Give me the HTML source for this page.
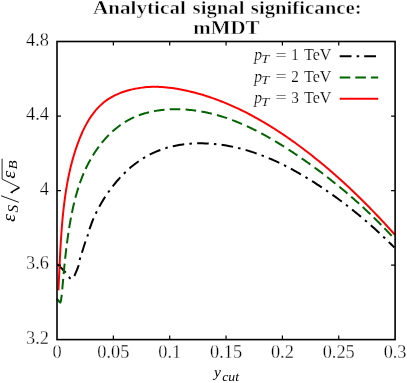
<!DOCTYPE html>
<html><head><meta charset="utf-8"><title>plot</title>
<style>
html,body{margin:0;padding:0;background:#fff;}
svg{display:block;font-family:"Liberation Serif",serif;will-change:transform;}
</style></head><body>
<svg width="407" height="383" viewBox="0 0 407 383">
<rect width="407" height="383" fill="#fff"/>
<g font-size="19" font-weight="bold" fill="#000" stroke="#fff" stroke-width="0.45">
<text x="92.9" y="13.7" textLength="93" lengthAdjust="spacingAndGlyphs">Analytical</text>
<text x="192.6" y="13.7" textLength="51.8" lengthAdjust="spacingAndGlyphs">signal</text>
<text x="250.8" y="13.7" textLength="110.8" lengthAdjust="spacingAndGlyphs">significance:</text>
<text x="193.2" y="34.4" textLength="66.3" lengthAdjust="spacingAndGlyphs">mMDT</text>
</g>
<g fill="none" stroke-linecap="butt" stroke-linejoin="round">
<path d="M57.50,264.20C58.17,264.88 60.13,266.90 61.50,268.30C62.87,269.70 64.65,271.38 65.70,272.60C66.75,273.82 67.13,274.72 67.80,275.60C68.47,276.48 69.10,277.35 69.70,277.90C70.30,278.45 70.85,278.88 71.40,278.90C71.95,278.92 72.48,278.52 73.00,278.00C73.52,277.48 73.93,276.88 74.50,275.75C75.07,274.62 75.75,272.82 76.40,271.20C77.05,269.57 77.83,267.98 78.40,266.00C78.97,264.02 79.23,261.45 79.80,259.30C80.37,257.15 80.88,255.98 81.80,253.10C82.72,250.22 84.33,244.92 85.30,242.00C86.27,239.08 87.12,237.04 87.61,235.58C88.10,234.12 88.03,234.02 88.26,233.25C88.48,232.47 88.71,231.70 88.95,230.93C89.19,230.16 89.44,229.39 89.69,228.62C89.95,227.85 90.21,227.08 90.48,226.32C90.75,225.55 91.03,224.79 91.32,224.03C91.60,223.27 91.89,222.51 92.20,221.75C92.50,220.99 92.81,220.23 93.12,219.48C93.44,218.73 93.76,217.97 94.09,217.22C94.42,216.47 94.76,215.73 95.10,214.98C95.45,214.23 95.80,213.49 96.16,212.75C96.52,212.01 96.89,211.27 97.26,210.53C97.64,209.79 98.02,209.06 98.41,208.33C98.79,207.60 99.19,206.87 99.59,206.14C99.99,205.41 100.40,204.69 100.82,203.96C101.24,203.24 101.66,202.52 102.09,201.80C102.52,201.09 102.95,200.37 103.40,199.66C103.84,198.95 104.29,198.24 104.74,197.53C105.20,196.83 105.66,196.12 106.13,195.42C106.60,194.72 107.08,194.03 107.56,193.33C108.04,192.64 108.53,191.95 109.03,191.26C109.52,190.57 110.02,189.88 110.53,189.20C111.04,188.52 111.55,187.84 112.07,187.17C112.59,186.49 113.12,185.82 113.65,185.16C114.18,184.49 114.72,183.83 115.26,183.17C115.81,182.52 116.36,181.86 116.91,181.22C117.47,180.57 118.03,179.93 118.60,179.29C119.17,178.66 119.74,178.02 120.32,177.40C120.90,176.77 121.49,176.15 122.08,175.54C122.67,174.93 123.26,174.32 123.87,173.72C124.47,173.12 125.07,172.53 125.69,171.94C126.30,171.35 126.92,170.77 127.54,170.20C128.17,169.63 128.80,169.06 129.43,168.50C130.07,167.94 130.71,167.39 131.35,166.85C132.00,166.31 132.65,165.78 133.30,165.25C133.96,164.73 134.62,164.21 135.28,163.70C135.95,163.19 136.62,162.69 137.30,162.20C137.97,161.71 138.65,161.23 139.34,160.76C140.02,160.29 140.71,159.83 141.41,159.37C142.10,158.92 142.80,158.48 143.51,158.05C144.21,157.62 144.92,157.19 145.64,156.78C146.35,156.37 147.07,155.97 147.79,155.58C148.51,155.19 149.24,154.81 149.97,154.44C150.71,154.07 151.44,153.71 152.18,153.36C152.92,153.01 153.66,152.67 154.41,152.34C155.16,152.01 155.91,151.69 156.67,151.38C157.42,151.07 158.18,150.77 158.94,150.48C159.71,150.18 160.47,149.90 161.24,149.63C162.01,149.36 162.79,149.09 163.56,148.84C164.34,148.59 165.12,148.34 165.90,148.11C166.68,147.87 167.47,147.65 168.25,147.43C169.04,147.21 169.83,147.01 170.63,146.81C171.42,146.61 172.22,146.42 173.02,146.24C173.81,146.06 174.62,145.88 175.42,145.72C176.22,145.56 177.03,145.40 177.84,145.26C178.64,145.11 179.45,144.97 180.27,144.84C181.08,144.71 181.89,144.59 182.71,144.48C183.53,144.37 184.34,144.26 185.16,144.17C185.98,144.07 186.80,143.99 187.63,143.91C188.45,143.83 189.27,143.75 190.10,143.69C190.92,143.63 191.75,143.57 192.58,143.52C193.40,143.48 194.23,143.44 195.06,143.40C195.89,143.37 196.72,143.35 197.55,143.33C198.39,143.31 199.22,143.30 200.05,143.30C200.88,143.30 201.72,143.30 202.55,143.32C203.38,143.33 204.22,143.35 205.05,143.38C205.89,143.40 206.72,143.44 207.56,143.48C208.39,143.52 209.23,143.57 210.06,143.62C210.90,143.68 211.73,143.74 212.57,143.81C213.40,143.88 214.24,143.96 215.07,144.04C215.90,144.12 216.74,144.21 217.57,144.31C218.40,144.40 219.23,144.50 220.07,144.61C220.90,144.72 221.73,144.84 222.56,144.96C223.39,145.08 224.22,145.21 225.04,145.34C225.87,145.48 226.70,145.62 227.52,145.76C228.35,145.91 229.17,146.06 229.99,146.22C230.82,146.38 231.64,146.54 232.46,146.71C233.27,146.88 234.09,147.06 234.91,147.24C235.72,147.42 236.54,147.61 237.35,147.80C238.16,147.99 238.97,148.19 239.78,148.39C240.59,148.60 241.40,148.80 242.21,149.02C243.01,149.23 243.82,149.45 244.62,149.68C245.42,149.90 246.22,150.13 247.02,150.37C247.82,150.60 248.62,150.85 249.41,151.09C250.21,151.34 251.00,151.59 251.80,151.84C252.59,152.10 253.38,152.36 254.17,152.63C254.96,152.89 255.75,153.16 256.53,153.44C257.32,153.71 258.10,153.99 258.88,154.28C259.67,154.56 260.45,154.85 261.23,155.14C262.01,155.44 262.78,155.73 263.56,156.04C264.34,156.34 265.11,156.65 265.88,156.96C266.66,157.27 267.43,157.59 268.20,157.91C268.97,158.23 269.73,158.55 270.50,158.88C271.27,159.21 272.03,159.54 272.80,159.88C273.56,160.21 274.32,160.55 275.08,160.90C275.84,161.24 276.60,161.59 277.36,161.94C278.11,162.29 278.87,162.65 279.62,163.01C280.37,163.37 281.13,163.73 281.88,164.10C282.63,164.47 283.38,164.84 284.12,165.21C284.87,165.59 285.62,165.96 286.36,166.34C287.10,166.72 287.85,167.11 288.59,167.50C289.33,167.88 290.07,168.28 290.81,168.67C291.54,169.06 292.28,169.46 293.01,169.86C293.75,170.26 294.48,170.67 295.21,171.07C295.94,171.48 296.67,171.89 297.40,172.30C298.13,172.71 298.86,173.13 299.58,173.55C300.31,173.96 301.03,174.38 301.75,174.81C302.48,175.23 303.20,175.66 303.92,176.09C304.64,176.52 305.35,176.95 306.07,177.38C306.79,177.81 307.50,178.25 308.21,178.69C308.93,179.13 309.64,179.57 310.35,180.01C311.06,180.45 311.77,180.90 312.47,181.35C313.18,181.79 313.88,182.24 314.59,182.70C315.29,183.15 315.99,183.60 316.70,184.06C317.40,184.51 318.10,184.97 318.79,185.43C319.49,185.89 320.19,186.35 320.88,186.81C321.58,187.28 322.27,187.74 322.96,188.21C323.65,188.68 324.35,189.14 325.03,189.61C325.72,190.08 326.41,190.56 327.10,191.03C327.78,191.50 328.47,191.98 329.15,192.45C329.83,192.93 330.51,193.41 331.19,193.89C331.87,194.37 332.55,194.85 333.23,195.34C333.91,195.82 334.58,196.30 335.26,196.79C335.93,197.28 336.60,197.77 337.27,198.26C337.95,198.75 338.62,199.24 339.28,199.73C339.95,200.23 340.62,200.72 341.28,201.22C341.95,201.72 342.61,202.22 343.28,202.72C343.94,203.22 344.60,203.72 345.26,204.22C345.92,204.73 346.58,205.23 347.23,205.74C347.89,206.25 348.55,206.76 349.20,207.27C349.85,207.78 350.51,208.29 351.16,208.81C351.81,209.32 352.46,209.84 353.11,210.36C353.76,210.88 354.40,211.39 355.05,211.92C355.69,212.44 356.34,212.96 356.98,213.49C357.62,214.01 358.26,214.54 358.90,215.06C359.54,215.59 360.18,216.12 360.82,216.65C361.46,217.19 362.09,217.72 362.73,218.26C363.36,218.79 363.99,219.33 364.62,219.87C365.25,220.40 365.89,220.94 366.51,221.49C367.14,222.03 367.77,222.57 368.40,223.12C369.02,223.66 369.65,224.21 370.27,224.76C370.89,225.31 371.51,225.86 372.13,226.41C372.75,226.96 373.37,227.52 373.99,228.07C374.61,228.63 375.23,229.19 375.84,229.75C376.46,230.31 377.07,230.87 377.68,231.43C378.29,231.99 378.90,232.56 379.51,233.13C380.12,233.69 380.73,234.26 381.34,234.83C381.95,235.40 382.55,235.97 383.16,236.54C383.76,237.12 384.36,237.69 384.96,238.27C385.57,238.85 386.17,239.43 386.76,240.01C387.36,240.59 387.96,241.17 388.56,241.75C389.15,242.34 389.75,242.92 390.34,243.51C390.94,244.10 391.53,244.69 392.12,245.28C392.71,245.87 393.51,246.68 393.89,247.05C394.26,247.43 394.28,247.45 394.36,247.53" stroke="#000" stroke-width="2.0" stroke-dasharray="11.6 5.2 2.5 5.25" stroke-dashoffset="-0.2"/>
<path d="M56.90,298.60L57.36,299.26L57.84,299.89L58.35,300.51L58.86,301.13L59.36,301.75L59.86,302.38L60.29,302.56L60.58,301.82L60.87,301.07L61.01,300.28L61.13,299.49L61.24,298.70L61.36,297.91L61.47,297.12L61.58,296.32L61.68,295.53L61.79,294.74M62.26,289.42L62.33,288.63L62.40,287.83L62.47,287.03L62.54,286.24L62.61,285.44L62.68,284.64L62.75,283.84L62.82,283.05L62.89,282.25L62.96,281.45L63.03,280.66L63.10,279.86L63.17,279.06L63.19,278.86M63.62,274.12L63.70,273.32L63.77,272.52L63.84,271.73L63.92,270.93L63.99,270.13L64.07,269.34L64.15,268.54L64.23,267.75L64.30,266.95L64.38,266.15L64.46,265.36L64.54,264.56L64.62,263.77L64.64,263.57M65.14,258.76L65.23,257.96L65.31,257.17L65.40,256.37L65.49,255.58L65.57,254.78L65.66,253.99L65.75,253.19L65.84,252.40L65.94,251.60L66.03,250.81L66.12,250.02L66.22,249.22L66.31,248.43L66.34,248.23M66.94,243.40L67.05,242.60L67.15,241.81L67.26,241.02L67.36,240.22L67.47,239.43L67.58,238.64L67.69,237.85L67.80,237.05L67.92,236.26L68.03,235.47L68.15,234.68L68.26,233.89L68.38,233.10L68.41,232.90M69.16,228.08L69.29,227.29L69.42,226.50L69.55,225.71L69.68,224.92L69.82,224.13L69.95,223.34L70.09,222.55L70.23,221.77L70.37,220.98L70.51,220.19L70.65,219.40L70.80,218.62L70.95,217.83L70.98,217.63M71.92,212.86L72.08,212.08L72.24,211.30L72.40,210.51L72.57,209.73L72.74,208.95L72.91,208.17L73.08,207.39L73.26,206.61L73.43,205.83L73.61,205.05L73.80,204.27L73.98,203.49L74.17,202.71L74.21,202.52M75.40,197.85L75.60,197.07L75.81,196.30L76.02,195.53L76.24,194.76L76.45,193.99L76.67,193.22L76.90,192.45L77.12,191.68L77.35,190.92L77.58,190.15L77.82,189.39L78.06,188.62L78.30,187.86L78.36,187.67M79.87,183.16L80.14,182.41L80.41,181.65L80.68,180.90L80.96,180.15L81.24,179.40L81.53,178.65L81.81,177.91L82.11,177.16L82.40,176.42L82.70,175.68L83.01,174.94L83.31,174.20L83.62,173.46L83.70,173.28M85.63,168.96L85.97,168.23L86.32,167.51L86.66,166.79L87.02,166.07L87.37,165.36L87.73,164.64L88.10,163.93L88.47,163.22L88.84,162.51L89.22,161.81L89.60,161.11L89.99,160.41L90.38,159.71L90.48,159.53M92.89,155.43L93.31,154.75L93.74,154.08L94.17,153.40L94.60,152.73L95.04,152.06L95.48,151.39L95.93,150.73L96.38,150.07L96.84,149.41L97.30,148.76L97.76,148.11L98.23,147.46L98.71,146.81L98.82,146.65M101.78,142.84L102.28,142.22L102.79,141.60L103.31,140.99L103.83,140.38L104.35,139.78L104.88,139.18L105.41,138.58L105.95,137.99L106.49,137.40L107.04,136.82L107.59,136.24L108.15,135.66L108.71,135.09L108.85,134.95M112.39,131.56L112.98,131.03L113.58,130.50L114.19,129.97L114.80,129.45L115.41,128.94L116.03,128.43L116.65,127.93L117.28,127.43L117.91,126.94L118.54,126.45L119.18,125.97L119.83,125.50L120.48,125.03L120.64,124.92M124.79,122.17L125.47,121.75L126.16,121.34L126.85,120.93L127.54,120.54L128.24,120.15L128.94,119.77L129.65,119.39L130.36,119.03L131.08,118.67L131.80,118.32L132.52,117.97L133.24,117.63L133.97,117.31L134.16,117.22M138.84,115.33L139.59,115.05L140.35,114.78L141.11,114.53L141.86,114.27L142.63,114.03L143.39,113.79L144.15,113.55L144.92,113.33L145.69,113.11L146.46,112.90L147.24,112.69L148.01,112.49L148.79,112.30L148.98,112.25M154.01,111.18L154.79,111.03L155.58,110.89L156.37,110.76L157.16,110.63L157.95,110.51L158.74,110.40L159.53,110.29L160.33,110.18L161.12,110.08L161.92,109.99L162.71,109.90L163.51,109.82L164.30,109.74L164.50,109.73M169.71,109.36L170.51,109.33L171.31,109.30L172.11,109.27L172.91,109.25L173.71,109.23L174.51,109.22L175.31,109.22L176.11,109.21L176.91,109.22L177.71,109.23L178.51,109.24L179.31,109.25L180.11,109.28L180.31,109.28M185.60,109.55L186.40,109.61L187.20,109.67L188.00,109.74L188.79,109.81L189.59,109.88L190.39,109.96L191.18,110.04L191.98,110.13L192.77,110.23L193.56,110.32L194.36,110.42L195.15,110.53L195.94,110.64L196.14,110.67M201.42,111.51L202.21,111.65L203.00,111.80L203.78,111.95L204.57,112.10L205.35,112.26L206.13,112.42L206.92,112.59L207.70,112.76L208.48,112.93L209.26,113.11L210.04,113.29L210.82,113.47L211.59,113.66L211.79,113.71M216.97,115.07L217.74,115.29L218.51,115.51L219.28,115.74L220.05,115.97L220.81,116.20L221.58,116.43L222.34,116.67L223.11,116.91L223.87,117.15L224.63,117.40L225.39,117.65L226.15,117.91L226.90,118.16L227.09,118.23M232.15,120.04L232.90,120.32L233.65,120.61L234.39,120.90L235.14,121.19L235.88,121.48L236.63,121.78L237.37,122.07L238.11,122.38L238.85,122.68L239.59,122.99L240.33,123.30L241.06,123.61L241.80,123.92L241.98,124.00M246.89,126.19L247.62,126.52L248.35,126.86L249.07,127.20L249.79,127.54L250.52,127.88L251.24,128.23L251.96,128.58L252.68,128.93L253.39,129.28L254.11,129.64L254.83,129.99L255.54,130.35L256.26,130.71L256.43,130.81M261.19,133.28L261.90,133.66L262.60,134.04L263.30,134.42L264.01,134.80L264.71,135.19L265.41,135.58L266.11,135.96L266.81,136.35L267.50,136.75L268.20,137.14L268.90,137.53L269.59,137.93L270.29,138.33L270.46,138.43M275.06,141.13L275.75,141.54L276.44,141.96L277.12,142.37L277.80,142.78L278.49,143.20L279.17,143.62L279.85,144.04L280.53,144.46L281.21,144.88L281.89,145.30L282.57,145.73L283.25,146.15L283.92,146.58L284.09,146.69M288.55,149.55L289.22,149.99L289.89,150.42L290.56,150.86L291.23,151.30L291.90,151.74L292.57,152.18L293.23,152.63L293.90,153.07L294.56,153.51L295.23,153.96L295.89,154.41L296.56,154.85L297.22,155.30L297.38,155.41M301.72,158.38L302.38,158.83L303.03,159.29L303.69,159.75L304.35,160.20L305.00,160.66L305.66,161.12L306.31,161.58L306.96,162.05L307.62,162.51L308.27,162.97L308.92,163.43L309.57,163.90L310.22,164.37L310.39,164.48M314.58,167.53L315.23,168.00L315.87,168.47L316.52,168.95L317.16,169.42L317.80,169.90L318.45,170.38L319.09,170.85L319.73,171.33L320.37,171.81L321.01,172.29L321.65,172.78L322.28,173.26L322.92,173.74L323.08,173.86M327.13,176.98L327.76,177.47L328.40,177.96L329.03,178.45L329.66,178.94L330.28,179.44L330.91,179.93L331.54,180.43L332.17,180.93L332.79,181.42L333.42,181.92L334.04,182.42L334.67,182.92L335.29,183.42L335.45,183.55M339.34,186.72L339.96,187.22L340.57,187.73L341.19,188.24L341.81,188.75L342.42,189.27L343.03,189.78L343.65,190.29L344.26,190.81L344.87,191.32L345.48,191.84L346.09,192.36L346.70,192.87L347.31,193.39L347.46,193.52M351.18,196.73L351.79,197.26L352.39,197.78L352.99,198.31L353.59,198.84L354.19,199.37L354.79,199.90L355.39,200.43L355.99,200.96L356.58,201.49L357.18,202.03L357.78,202.56L358.37,203.10L358.96,203.63L359.11,203.77M362.65,207.00L363.24,207.54L363.83,208.09L364.41,208.63L365.00,209.18L365.58,209.72L366.17,210.27L366.75,210.82L367.33,211.37L367.91,211.91L368.50,212.47L369.08,213.02L369.65,213.57L370.23,214.12L370.38,214.26M373.73,217.50L374.30,218.06L374.87,218.62L375.44,219.18L376.01,219.74L376.58,220.30L377.15,220.87L377.72,221.43L378.28,222.00L378.85,222.56L379.42,223.13L379.98,223.70L380.54,224.26L381.10,224.83L381.25,224.98M384.40,228.21L384.96,228.78L385.52,229.36L386.07,229.93L386.63,230.51L387.18,231.09L387.73,231.67L388.28,232.25L388.83,232.83L389.38,233.41L389.93,233.99L390.48,234.57L391.03,235.16L391.57,235.74L391.71,235.89M394.67,239.09L394.93,239.37" stroke="#006400" stroke-width="2.0"/>
<path d="M58.38,290.35C58.40,289.94 58.47,288.70 58.51,287.88C58.55,287.05 58.59,286.23 58.63,285.40C58.67,284.58 58.71,283.75 58.75,282.92C58.80,282.10 58.84,281.27 58.87,280.44C58.91,279.61 58.95,278.78 58.99,277.96C59.03,277.13 59.07,276.30 59.11,275.47C59.15,274.64 59.19,273.81 59.23,272.98C59.27,272.15 59.30,271.32 59.34,270.49C59.38,269.66 59.42,268.82 59.46,267.99C59.50,267.16 59.54,266.33 59.58,265.50C59.62,264.66 59.66,263.83 59.70,263.00C59.74,262.16 59.78,261.33 59.82,260.50C59.86,259.66 59.90,258.83 59.94,258.00C59.98,257.16 60.02,256.33 60.06,255.49C60.11,254.66 60.15,253.83 60.19,252.99C60.24,252.16 60.28,251.32 60.33,250.49C60.37,249.65 60.42,248.82 60.46,247.98C60.51,247.15 60.56,246.31 60.61,245.48C60.65,244.64 60.70,243.81 60.75,242.97C60.80,242.14 60.86,241.30 60.91,240.47C60.96,239.63 61.01,238.80 61.07,237.96C61.12,237.13 61.18,236.29 61.23,235.46C61.29,234.62 61.35,233.79 61.41,232.96C61.47,232.12 61.53,231.29 61.59,230.45C61.65,229.62 61.72,228.79 61.78,227.95C61.85,227.12 61.91,226.28 61.98,225.45C62.05,224.62 62.12,223.79 62.19,222.95C62.26,222.12 62.34,221.29 62.41,220.46C62.49,219.62 62.56,218.79 62.64,217.96C62.72,217.13 62.80,216.30 62.88,215.47C62.96,214.64 63.05,213.81 63.13,212.98C63.22,212.15 63.31,211.32 63.40,210.49C63.49,209.66 63.58,208.83 63.67,208.01C63.77,207.18 63.87,206.35 63.96,205.52C64.06,204.70 64.16,203.87 64.27,203.04C64.37,202.22 64.48,201.39 64.59,200.57C64.69,199.74 64.80,198.92 64.92,198.10C65.03,197.27 65.15,196.45 65.27,195.63C65.38,194.81 65.50,193.98 65.63,193.16C65.75,192.34 65.88,191.52 66.01,190.70C66.14,189.88 66.27,189.07 66.40,188.25C66.54,187.43 66.68,186.61 66.82,185.80C66.96,184.98 67.10,184.16 67.25,183.35C67.39,182.53 67.54,181.72 67.70,180.91C67.85,180.09 68.01,179.28 68.17,178.47C68.33,177.66 68.49,176.84 68.66,176.03C68.83,175.22 69.00,174.41 69.17,173.61C69.34,172.80 69.52,171.99 69.71,171.18C69.89,170.37 70.07,169.57 70.26,168.76C70.45,167.95 70.65,167.15 70.84,166.34C71.04,165.54 71.25,164.74 71.45,163.93C71.66,163.13 71.87,162.33 72.08,161.53C72.30,160.72 72.52,159.92 72.74,159.12C72.97,158.32 73.20,157.52 73.43,156.73C73.66,155.93 73.90,155.13 74.14,154.33C74.39,153.54 74.63,152.74 74.89,151.94C75.14,151.15 75.40,150.35 75.66,149.56C75.92,148.77 76.19,147.97 76.46,147.18C76.74,146.39 77.02,145.60 77.30,144.80C77.58,144.01 77.87,143.22 78.17,142.43C78.46,141.64 78.76,140.85 79.07,140.07C79.38,139.28 79.69,138.49 80.01,137.71C80.32,136.92 80.65,136.14 80.98,135.35C81.31,134.57 81.64,133.79 81.99,133.01C82.33,132.24 82.68,131.46 83.04,130.69C83.40,129.92 83.77,129.15 84.14,128.39C84.52,127.63 84.90,126.87 85.29,126.12C85.68,125.36 86.08,124.62 86.49,123.88C86.89,123.13 87.31,122.40 87.74,121.67C88.16,120.94 88.60,120.22 89.04,119.50C89.49,118.79 89.94,118.08 90.41,117.38C90.87,116.68 91.35,115.99 91.84,115.31C92.32,114.63 92.82,113.95 93.33,113.29C93.83,112.63 94.35,111.97 94.88,111.33C95.41,110.69 95.95,110.05 96.50,109.43C97.04,108.81 97.60,108.20 98.17,107.60C98.74,107.01 99.32,106.42 99.91,105.85C100.50,105.27 101.10,104.71 101.71,104.16C102.32,103.62 102.94,103.08 103.58,102.57C104.21,102.05 104.85,101.54 105.50,101.05C106.15,100.56 106.81,100.09 107.48,99.63C108.16,99.17 108.84,98.72 109.53,98.29C110.22,97.87 110.92,97.45 111.63,97.05C112.33,96.65 113.05,96.27 113.78,95.89C114.50,95.52 115.23,95.17 115.97,94.82C116.71,94.48 117.46,94.14 118.21,93.83C118.96,93.51 119.72,93.20 120.49,92.91C121.25,92.61 122.02,92.33 122.80,92.06C123.58,91.79 124.36,91.54 125.14,91.29C125.92,91.04 126.71,90.81 127.51,90.58C128.30,90.36 129.09,90.14 129.89,89.94C130.69,89.73 131.49,89.54 132.30,89.35C133.10,89.17 133.91,89.00 134.71,88.83C135.52,88.67 136.33,88.51 137.15,88.37C137.96,88.23 138.78,88.09 139.59,87.97C140.41,87.84 141.23,87.73 142.05,87.62C142.87,87.52 143.70,87.43 144.52,87.34C145.35,87.26 146.17,87.18 147.00,87.12C147.83,87.05 148.66,87.00 149.49,86.95C150.32,86.91 151.15,86.87 151.98,86.85C152.81,86.82 153.65,86.81 154.48,86.80C155.32,86.80 156.15,86.80 156.99,86.81C157.82,86.83 158.66,86.85 159.49,86.88C160.33,86.92 161.17,86.96 162.00,87.01C162.84,87.06 163.68,87.12 164.51,87.19C165.35,87.26 166.19,87.34 167.02,87.42C167.86,87.51 168.70,87.60 169.53,87.71C170.37,87.81 171.21,87.92 172.04,88.03C172.88,88.15 173.71,88.27 174.54,88.40C175.38,88.53 176.21,88.67 177.04,88.81C177.87,88.95 178.70,89.10 179.53,89.26C180.36,89.41 181.19,89.57 182.02,89.74C182.84,89.90 183.67,90.07 184.49,90.25C185.32,90.42 186.14,90.60 186.96,90.78C187.78,90.97 188.60,91.16 189.41,91.35C190.23,91.54 191.05,91.74 191.86,91.94C192.67,92.14 193.49,92.35 194.30,92.56C195.11,92.77 195.91,92.99 196.72,93.21C197.53,93.43 198.33,93.65 199.14,93.88C199.94,94.11 200.74,94.34 201.54,94.58C202.34,94.81 203.14,95.05 203.94,95.30C204.74,95.54 205.53,95.79 206.33,96.04C207.12,96.30 207.91,96.56 208.70,96.82C209.50,97.08 210.28,97.34 211.07,97.61C211.86,97.88 212.65,98.15 213.43,98.43C214.21,98.71 215.00,98.99 215.78,99.27C216.56,99.56 217.34,99.85 218.12,100.14C218.90,100.43 219.67,100.73 220.45,101.03C221.22,101.33 222.00,101.63 222.77,101.94C223.54,102.25 224.31,102.56 225.08,102.87C225.85,103.19 226.61,103.51 227.38,103.83C228.15,104.15 228.91,104.47 229.67,104.80C230.44,105.13 231.20,105.46 231.96,105.80C232.72,106.14 233.47,106.48 234.23,106.82C234.99,107.16 235.74,107.51 236.49,107.86C237.25,108.21 238.00,108.56 238.75,108.91C239.50,109.27 240.25,109.63 241.00,109.99C241.74,110.35 242.49,110.72 243.23,111.09C243.98,111.46 244.72,111.83 245.46,112.21C246.21,112.58 246.95,112.96 247.68,113.34C248.42,113.72 249.16,114.11 249.89,114.49C250.63,114.88 251.36,115.27 252.10,115.66C252.83,116.06 253.56,116.45 254.29,116.85C255.02,117.25 255.75,117.65 256.47,118.06C257.20,118.46 257.93,118.87 258.65,119.28C259.37,119.69 260.10,120.10 260.82,120.52C261.54,120.93 262.26,121.35 262.98,121.77C263.70,122.19 264.41,122.62 265.13,123.04C265.84,123.47 266.56,123.90 267.27,124.33C267.98,124.76 268.69,125.19 269.40,125.63C270.11,126.07 270.82,126.51 271.53,126.95C272.23,127.39 272.94,127.83 273.64,128.28C274.35,128.72 275.05,129.17 275.75,129.62C276.45,130.07 277.15,130.53 277.85,130.98C278.55,131.44 279.25,131.89 279.94,132.35C280.64,132.81 281.33,133.27 282.03,133.74C282.72,134.20 283.41,134.67 284.10,135.13C284.79,135.60 285.48,136.07 286.17,136.54C286.86,137.02 287.54,137.49 288.23,137.97C288.91,138.44 289.60,138.92 290.28,139.40C290.96,139.88 291.64,140.36 292.32,140.84C293.00,141.33 293.68,141.81 294.36,142.30C295.03,142.79 295.71,143.27 296.38,143.76C297.06,144.25 297.73,144.75 298.40,145.24C299.07,145.73 299.74,146.23 300.41,146.73C301.08,147.22 301.75,147.72 302.42,148.22C303.08,148.72 303.75,149.23 304.41,149.73C305.08,150.23 305.74,150.74 306.40,151.25C307.06,151.75 307.72,152.26 308.38,152.77C309.04,153.28 309.70,153.79 310.36,154.31C311.01,154.82 311.67,155.33 312.32,155.85C312.97,156.37 313.63,156.89 314.28,157.41C314.93,157.92 315.58,158.45 316.23,158.97C316.88,159.49 317.53,160.01 318.17,160.54C318.82,161.07 319.46,161.59 320.11,162.12C320.75,162.65 321.40,163.18 322.04,163.71C322.68,164.24 323.32,164.78 323.96,165.31C324.60,165.84 325.24,166.38 325.87,166.92C326.51,167.46 327.14,167.99 327.78,168.53C328.41,169.07 329.05,169.62 329.68,170.16C330.31,170.70 330.94,171.25 331.57,171.79C332.20,172.34 332.83,172.88 333.46,173.43C334.08,173.98 334.71,174.53 335.33,175.08C335.96,175.63 336.58,176.18 337.21,176.74C337.83,177.29 338.45,177.85 339.07,178.40C339.69,178.96 340.31,179.52 340.93,180.08C341.55,180.64 342.16,181.20 342.78,181.76C343.39,182.32 344.01,182.88 344.62,183.44C345.24,184.01 345.85,184.57 346.46,185.14C347.07,185.71 347.68,186.27 348.29,186.84C348.90,187.41 349.51,187.98 350.11,188.55C350.72,189.12 351.33,189.70 351.93,190.27C352.54,190.84 353.14,191.42 353.74,192.00C354.34,192.57 354.94,193.15 355.55,193.73C356.15,194.30 356.74,194.88 357.34,195.46C357.94,196.05 358.54,196.63 359.13,197.21C359.73,197.79 360.32,198.38 360.92,198.96C361.51,199.55 362.10,200.13 362.70,200.72C363.29,201.31 363.88,201.89 364.47,202.48C365.06,203.07 365.65,203.66 366.23,204.25C366.82,204.84 367.41,205.44 367.99,206.03C368.58,206.62 369.16,207.22 369.75,207.81C370.33,208.41 370.91,209.00 371.49,209.60C372.08,210.20 372.66,210.80 373.24,211.40C373.81,212.00 374.39,212.60 374.97,213.20C375.55,213.80 376.12,214.40 376.70,215.00C377.27,215.61 377.85,216.21 378.42,216.81C379.00,217.42 379.57,218.02 380.14,218.63C380.71,219.24 381.28,219.85 381.85,220.45C382.42,221.06 382.99,221.67 383.56,222.28C384.12,222.89 384.69,223.50 385.25,224.11C385.82,224.72 386.39,225.34 386.95,225.95C387.51,226.56 388.08,227.18 388.64,227.79C389.20,228.41 389.76,229.02 390.32,229.64C390.88,230.26 391.44,230.87 392.00,231.49C392.55,232.11 393.15,232.78 393.67,233.35C394.18,233.92 394.84,234.66 395.07,234.92" stroke="#ff0000" stroke-width="2.0"/>
</g>
<g fill="none" stroke="#000">
<path d="M113.35,41.50 v4.00 M113.35,339.60 v-4.00 M169.70,41.50 v4.00 M169.70,339.60 v-4.00 M226.05,41.50 v4.00 M226.05,339.60 v-4.00 M282.40,41.50 v4.00 M282.40,339.60 v-4.00 M338.75,41.50 v4.00 M338.75,339.60 v-4.00 M57.00,265.08 h4.00 M395.10,265.08 h-4.00 M57.00,190.55 h4.00 M395.10,190.55 h-4.00 M57.00,116.03 h4.00 M395.10,116.03 h-4.00 " stroke-width="1.2" stroke-linecap="butt"/>
<rect x="57.0" y="41.5" width="338.10" height="298.10" stroke-width="1.6"/>
</g>
<g font-size="19.8" fill="#000" stroke="#fff" stroke-width="0.3">
<text x="52.42" y="357.7" textLength="9.16" lengthAdjust="spacingAndGlyphs">0</text><text x="97.32" y="357.7" textLength="32.05" lengthAdjust="spacingAndGlyphs">0.05</text><text x="158.25" y="357.7" textLength="22.89" lengthAdjust="spacingAndGlyphs">0.1</text><text x="210.02" y="357.7" textLength="32.05" lengthAdjust="spacingAndGlyphs">0.15</text><text x="270.95" y="357.7" textLength="22.89" lengthAdjust="spacingAndGlyphs">0.2</text><text x="322.72" y="357.7" textLength="32.05" lengthAdjust="spacingAndGlyphs">0.25</text><text x="383.65" y="357.7" textLength="22.89" lengthAdjust="spacingAndGlyphs">0.3</text>
<text x="26.01" y="343.60" textLength="22.89" lengthAdjust="spacingAndGlyphs">3.2</text><text x="26.01" y="269.08" textLength="22.89" lengthAdjust="spacingAndGlyphs">3.6</text><text x="39.74" y="194.55" textLength="9.16" lengthAdjust="spacingAndGlyphs">4</text><text x="26.01" y="120.03" textLength="22.89" lengthAdjust="spacingAndGlyphs">4.4</text><text x="26.01" y="45.50" textLength="22.89" lengthAdjust="spacingAndGlyphs">4.8</text>
</g>
<g fill="none" stroke-width="2.0">
<path d="M339.7,56.2H378.2" stroke="#000" stroke-dasharray="11.8 5.1 2.6 5.0"/>
<path d="M339.7,77.5H378.2" stroke="#006400" stroke-dasharray="10.6 5.0"/>
<path d="M339.7,98.7H378.2" stroke="#ff0000"/>
</g>
<g font-size="17.2" fill="#000" stroke="#fff" stroke-width="0.18">
<g transform="translate(0,0)">
<text x="254.2" y="60.4" font-style="italic" textLength="7.8" lengthAdjust="spacingAndGlyphs">p</text>
<text x="261.0" y="63" font-size="12.6" font-style="italic" textLength="8.4" lengthAdjust="spacingAndGlyphs">T</text>
<text x="275.6" y="60.9" textLength="11.2" lengthAdjust="spacingAndGlyphs">=</text>
<text x="291.2" y="60.4" textLength="7.6" lengthAdjust="spacingAndGlyphs">1</text>
<text x="304" y="60.4" textLength="27.5" lengthAdjust="spacingAndGlyphs">TeV</text>
</g>
<g transform="translate(0,21.3)">
<text x="254.2" y="60.4" font-style="italic" textLength="7.8" lengthAdjust="spacingAndGlyphs">p</text>
<text x="261.0" y="63" font-size="12.6" font-style="italic" textLength="8.4" lengthAdjust="spacingAndGlyphs">T</text>
<text x="275.6" y="60.9" textLength="11.2" lengthAdjust="spacingAndGlyphs">=</text>
<text x="291.2" y="60.4" textLength="7.6" lengthAdjust="spacingAndGlyphs">2</text>
<text x="304" y="60.4" textLength="27.5" lengthAdjust="spacingAndGlyphs">TeV</text>
</g>
<g transform="translate(0,42.6)">
<text x="254.2" y="60.4" font-style="italic" textLength="7.8" lengthAdjust="spacingAndGlyphs">p</text>
<text x="261.0" y="63" font-size="12.6" font-style="italic" textLength="8.4" lengthAdjust="spacingAndGlyphs">T</text>
<text x="275.6" y="60.9" textLength="11.2" lengthAdjust="spacingAndGlyphs">=</text>
<text x="291.2" y="60.4" textLength="7.6" lengthAdjust="spacingAndGlyphs">3</text>
<text x="304" y="60.4" textLength="27.5" lengthAdjust="spacingAndGlyphs">TeV</text>
</g>
</g>
<g fill="#000" font-style="italic">
<text x="214.0" y="377.3" font-size="15.5">y</text>
<text x="222.2" y="380.5" font-size="12" textLength="16.8" lengthAdjust="spacingAndGlyphs">cut</text>
</g>
<g transform="translate(14.8,221.9) rotate(-90)" fill="#000">
<text x="0" y="0.2" font-size="19.6" font-style="italic" textLength="8.0" lengthAdjust="spacingAndGlyphs">ε</text>
<text x="9.3" y="3.2" font-size="13.6" font-style="italic" textLength="7.5" lengthAdjust="spacingAndGlyphs">S</text>
<path d="M19.6,4.0 L26.15,-13.75" fill="none" stroke="#000" stroke-width="0.9"/>
<text x="43.1" y="0" font-size="19.6" font-style="italic" textLength="8.0" lengthAdjust="spacingAndGlyphs">ε</text>
<text x="52.3" y="2.5" font-size="13.4" font-style="italic" textLength="9.2" lengthAdjust="spacingAndGlyphs">B</text>
<path d="M28.9,-2.2 L29.7,-3.4 L34.4,4.6" fill="none" stroke="#000" stroke-width="1.5" stroke-linejoin="miter"/>
<path d="M34.4,4.6 L42.8,-12.7 H63.2" fill="none" stroke="#000" stroke-width="0.85" stroke-linejoin="miter"/>
</g>
</svg>
</body></html>
